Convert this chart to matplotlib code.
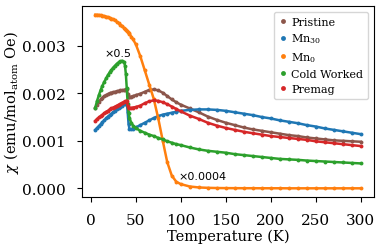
import matplotlib
matplotlib.use("Agg")
import matplotlib.pyplot as plt
from matplotlib.lines import Line2D
import numpy as np

plt.rcParams['font.family'] = 'DejaVu Serif'
plt.rcParams['mathtext.fontset'] = 'dejavuserif'

T = [5, 7, 9, 11, 13, 15, 17, 19, 21, 23, 25, 27, 29, 31, 33, 35, 37, 38, 39, 40, 41, 42, 43,
     45, 47, 50, 55, 60, 65, 70, 75, 80, 85, 90, 95, 100,
     110, 120, 130, 140, 150, 160, 170, 180, 190, 200, 210, 220, 230, 240, 250,
     260, 270, 280, 290, 300]

# values in units of 1e-3 emu/mol_atom Oe (as displayed)
pristine = [1.70, 1.76, 1.82, 1.87, 1.91, 1.94, 1.96, 1.98, 2.00, 2.01, 2.02, 2.03, 2.04, 2.05, 2.06, 2.06, 2.07, 2.07, 2.08, 2.08, 1.98, 1.93, 1.92,
            1.93, 1.94, 1.96, 1.99, 2.03, 2.07, 2.08, 2.06, 2.01, 1.94, 1.87, 1.81, 1.76,
            1.68, 1.60, 1.51, 1.44, 1.38, 1.33, 1.28, 1.24, 1.21, 1.18, 1.15, 1.12, 1.10, 1.07, 1.05,
            1.03, 1.01, 1.00, 0.99, 0.98]
mn30 = [1.23, 1.27, 1.31, 1.35, 1.39, 1.43, 1.47, 1.51, 1.54, 1.57, 1.60, 1.63, 1.66, 1.68, 1.71, 1.74, 1.77, 1.78, 1.79, 1.80, 1.60, 1.35, 1.25,
        1.24, 1.25, 1.28, 1.33, 1.38, 1.43, 1.48, 1.52, 1.55, 1.57, 1.59, 1.61, 1.63,
        1.65, 1.66, 1.66, 1.65, 1.63, 1.60, 1.57, 1.54, 1.50, 1.47, 1.43, 1.40, 1.37, 1.33, 1.30,
        1.26, 1.23, 1.20, 1.17, 1.14]
mn0_scaled = [3.65, 3.65, 3.645, 3.64, 3.63, 3.62, 3.61, 3.60, 3.585, 3.57, 3.55, 3.53, 3.50, 3.47, 3.44, 3.41, 3.37, 3.35, 3.33, 3.31, 3.29, 3.27, 3.24,
              3.19, 3.13, 3.03, 2.78, 2.48, 2.18, 1.88, 1.47, 1.00, 0.55, 0.27, 0.14, 0.09,
              0.04, 0.02, 0.012, 0.008, 0.006, 0.005, 0.004, 0.004, 0.003, 0.003, 0.003, 0.002, 0.002, 0.002, 0.002,
              0.002, 0.002, 0.002, 0.002, 0.002]
cold_scaled = [1.70, 1.84, 1.96, 2.07, 2.16, 2.24, 2.31, 2.38, 2.44, 2.49, 2.54, 2.58, 2.62, 2.65, 2.67, 2.68, 2.66, 2.58, 2.40, 2.10, 1.78, 1.58, 1.48,
               1.38, 1.32, 1.27, 1.21, 1.17, 1.13, 1.10, 1.06, 1.03, 0.99, 0.96, 0.93, 0.91,
               0.86, 0.82, 0.79, 0.77, 0.75, 0.72, 0.70, 0.68, 0.66, 0.64, 0.62, 0.61, 0.60, 0.585, 0.575,
               0.565, 0.555, 0.545, 0.535, 0.525]
premag = [1.42, 1.46, 1.49, 1.52, 1.55, 1.58, 1.61, 1.63, 1.66, 1.68, 1.70, 1.72, 1.74, 1.76, 1.78, 1.80, 1.82, 1.83, 1.83, 1.84, 1.74, 1.68, 1.68,
          1.69, 1.70, 1.71, 1.74, 1.79, 1.83, 1.85, 1.84, 1.81, 1.77, 1.72, 1.67, 1.62,
          1.53, 1.46, 1.38, 1.32, 1.27, 1.23, 1.19, 1.16, 1.13, 1.10, 1.08, 1.06, 1.04, 1.02, 0.99,
          0.97, 0.95, 0.93, 0.91, 0.89]

labels = ['Pristine', 'Mn$_{30}$', 'Mn$_0$', 'Cold Worked', 'Premag']
colors = ['#8c564b', '#1f77b4', '#ff7f0e', '#2ca02c', '#d62728']
series = [pristine, mn30, mn0_scaled, cold_scaled, premag]

fig = plt.figure(figsize=(3.82, 2.51), dpi=100)
ax = fig.add_axes([0.2147, 0.2112, 0.979 - 0.2147, 0.972 - 0.2112])

Ta = np.array(T)
for vals, c in zip(series, colors):
    ax.plot(Ta, np.array(vals) * 1e-3, color=c, lw=1.8, marker='o', ms=2.8,
            markeredgewidth=0)

ax.text(30, 2.85e-3, '×0.5', family='DejaVu Sans', fontsize=8, ha='center', va='center')
ax.text(124, 0.26e-3, '×0.0004', family='DejaVu Sans', fontsize=8, ha='center', va='center')

ax.set_xticks([0, 50, 100, 150, 200, 250, 300])
ax.set_yticks([0.000, 0.001, 0.002, 0.003])
ax.set_yticklabels(['0.000', '0.001', '0.002', '0.003'])
ax.tick_params(labelsize=11)
ax.tick_params(axis='x', pad=8)
ax.tick_params(axis='y', pad=8)
ax.set_xlabel('Temperature (K)', fontsize=10.5, labelpad=1)
ax.set_ylabel(r'$\chi$ (emu/mol$_{\mathrm{atom}}$ Oe)', fontsize=10.5, labelpad=1)

handles = [Line2D([], [], color=c, marker='o', ls='', ms=3.5, markeredgewidth=0) for c in colors]
ax.legend(handles, labels, loc='upper right', fontsize=8, handletextpad=0.5,
          handlelength=0.6, labelspacing=0.45, borderpad=0.45)

fig.savefig('out.png', dpi=100)
